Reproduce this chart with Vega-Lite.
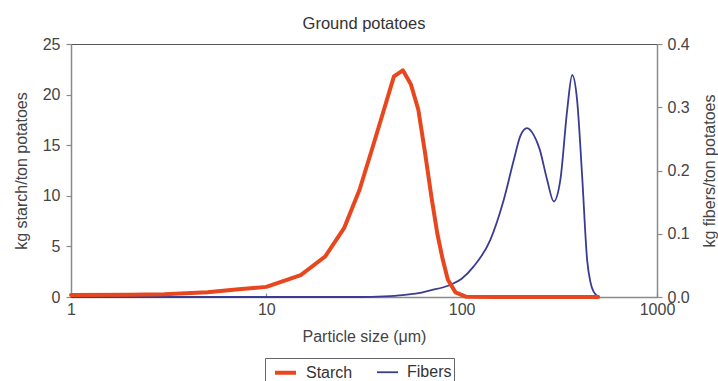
{
  "$schema": "https://vega.github.io/schema/vega-lite/v6.json",
  "width": 586,
  "height": 253,
  "autosize": {"type": "none"},
  "padding": {"left": 71, "top": 44, "right": 61, "bottom": 84},
  "background": "white",
  "title": {"text": "Ground potatoes", "fontSize": 16.5, "fontWeight": "normal", "color": "#333", "font": "Liberation Sans", "offset": 4},
  "config": {
    "font": "Liberation Sans",
    "view": {"stroke": "#555", "strokeWidth": 1},
    "axis": {"labelFont": "Liberation Sans", "titleFont": "Liberation Sans", "labelFontSize": 16, "titleFontSize": 16, "labelColor": "#444", "titleColor": "#444", "titleFontWeight": "normal", "domainColor": "#8a8a8a", "tickColor": "#8a8a8a", "grid": false, "domainWidth": 1.5, "tickWidth": 1.2, "labelFlush": false}
  },
  "data": {"values": [
    {"series": "Starch", "size": 1, "value": 0.2},
    {"series": "Starch", "size": 2, "value": 0.22},
    {"series": "Starch", "size": 3, "value": 0.28},
    {"series": "Starch", "size": 5, "value": 0.46},
    {"series": "Starch", "size": 7, "value": 0.75},
    {"series": "Starch", "size": 10, "value": 1.0},
    {"series": "Starch", "size": 15, "value": 2.17},
    {"series": "Starch", "size": 20, "value": 4.0},
    {"series": "Starch", "size": 25, "value": 6.8},
    {"series": "Starch", "size": 30, "value": 10.6},
    {"series": "Starch", "size": 35, "value": 14.8},
    {"series": "Starch", "size": 40, "value": 18.5},
    {"series": "Starch", "size": 45, "value": 21.8},
    {"series": "Starch", "size": 50, "value": 22.4},
    {"series": "Starch", "size": 55, "value": 21.0},
    {"series": "Starch", "size": 60, "value": 18.5},
    {"series": "Starch", "size": 65, "value": 14.2},
    {"series": "Starch", "size": 70, "value": 9.9},
    {"series": "Starch", "size": 75, "value": 6.3},
    {"series": "Starch", "size": 80, "value": 3.7},
    {"series": "Starch", "size": 85, "value": 1.7},
    {"series": "Starch", "size": 93, "value": 0.46},
    {"series": "Starch", "size": 105, "value": 0.03},
    {"series": "Starch", "size": 150, "value": 0},
    {"series": "Starch", "size": 500, "value": 0},
    {"series": "Fibers", "size": 1, "value": 0},
    {"series": "Fibers", "size": 30, "value": 0},
    {"series": "Fibers", "size": 40, "value": 0.001},
    {"series": "Fibers", "size": 50, "value": 0.003},
    {"series": "Fibers", "size": 60, "value": 0.006},
    {"series": "Fibers", "size": 70, "value": 0.011},
    {"series": "Fibers", "size": 80, "value": 0.015},
    {"series": "Fibers", "size": 90, "value": 0.021},
    {"series": "Fibers", "size": 100, "value": 0.029},
    {"series": "Fibers", "size": 115, "value": 0.048},
    {"series": "Fibers", "size": 140, "value": 0.09},
    {"series": "Fibers", "size": 164, "value": 0.153},
    {"series": "Fibers", "size": 185, "value": 0.217},
    {"series": "Fibers", "size": 200, "value": 0.255},
    {"series": "Fibers", "size": 216, "value": 0.267},
    {"series": "Fibers", "size": 234, "value": 0.256},
    {"series": "Fibers", "size": 250, "value": 0.235},
    {"series": "Fibers", "size": 274, "value": 0.185},
    {"series": "Fibers", "size": 296, "value": 0.151},
    {"series": "Fibers", "size": 320, "value": 0.185},
    {"series": "Fibers", "size": 347, "value": 0.296},
    {"series": "Fibers", "size": 368, "value": 0.351},
    {"series": "Fibers", "size": 390, "value": 0.311},
    {"series": "Fibers", "size": 414, "value": 0.19},
    {"series": "Fibers", "size": 439, "value": 0.058},
    {"series": "Fibers", "size": 456, "value": 0.024},
    {"series": "Fibers", "size": 474, "value": 0.008},
    {"series": "Fibers", "size": 505, "value": 0}
  ]},
  "encoding": {
    "x": {"field": "size", "type": "quantitative", "scale": {"type": "log", "domain": [1, 1000]},
      "axis": {"values": [1, 10, 100, 1000], "format": "d", "title": "Particle size (μm)", "tickSize": -4, "labelPadding": 8, "titlePadding": 11}},
    "color": {"field": "series", "type": "nominal", "scale": {"domain": ["Starch", "Fibers"], "range": ["#e8461e", "#3a3c93"]},
      "legend": {"title": null, "orient": "none", "legendX": 194, "legendY": 314, "direction": "horizontal", "strokeColor": "#666", "fillColor": "white", "padding": 2, "labelFontSize": 16, "labelFont": "Liberation Sans", "labelColor": "#333", "symbolType": "stroke", "symbolSize": 440, "symbolOffset": 6, "labelOffset": 8, "columnPadding": 17}},
    "strokeWidth": {"field": "series", "type": "nominal", "scale": {"domain": ["Starch", "Fibers"], "range": [4, 1.8]}, "legend": {"title": null, "orient": "none", "legendX": 194, "legendY": 314, "direction": "horizontal", "strokeColor": "#666", "fillColor": "white", "padding": 2, "labelFontSize": 16, "labelFont": "Liberation Sans", "labelColor": "#333", "symbolType": "stroke", "symbolSize": 440, "symbolOffset": 6, "labelOffset": 8, "columnPadding": 17}}
  },
  "layer": [
    {
      "transform": [{"filter": "datum.series === 'Fibers'"}],
      "mark": {"type": "line", "interpolate": "monotone"},
      "encoding": {
        "y": {"field": "value", "type": "quantitative", "scale": {"domain": [0, 0.4]},
          "axis": {"orient": "right", "values": [0, 0.1, 0.2, 0.3, 0.4], "format": ".1f", "title": "kg fibers/ton potatoes", "titleAngle": -90, "tickSize": 5, "labelPadding": 5, "titlePadding": 28}}
      }
    },
    {
      "transform": [{"filter": "datum.series === 'Starch'"}],
      "mark": {"type": "line", "strokeCap": "round", "strokeJoin": "round"},
      "encoding": {
        "y": {"field": "value", "type": "quantitative", "scale": {"domain": [0, 25]},
          "axis": {"orient": "left", "values": [0, 5, 10, 15, 20, 25], "title": "kg starch/ton potatoes", "tickSize": 5, "labelPadding": 6, "titlePadding": 13}}
      }
    }
  ],
  "resolve": {"scale": {"y": "independent"}}
}
